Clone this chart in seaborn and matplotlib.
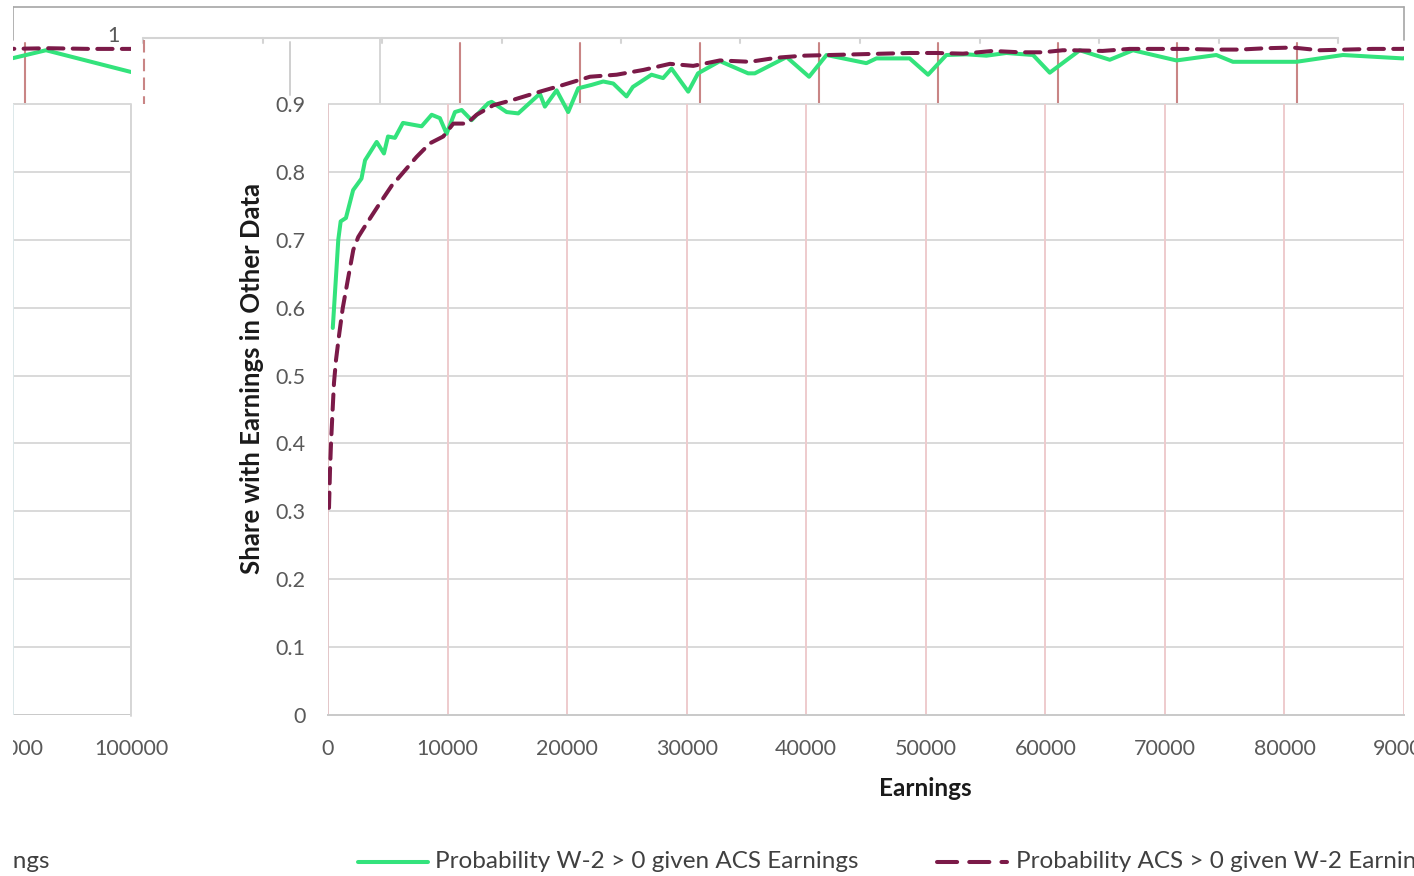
import matplotlib
matplotlib.use("Agg")
import matplotlib.pyplot as plt
from matplotlib.lines import Line2D
from matplotlib.patches import Rectangle
import pandas as pd
import seaborn as sns

# Share of people with earnings in one source who also show earnings in the other
earn_w2 = [400, 670, 860, 1060, 1500, 2100, 2800, 3100, 4070, 4680, 5020, 5600, 6270,
           7830, 8670, 9360, 9920, 10620, 11180, 12010, 13400, 13690, 14940, 15910,
           17720, 18140, 19120, 20090, 20930, 22050, 23020, 23860, 24970, 25500,
           27060, 28030, 28730, 30130, 30950, 32780, 35140, 35700, 38360, 40240,
           41700, 45030, 45870, 48650, 50190, 51720, 53400, 55070, 56740, 58970,
           60370, 62880, 65390, 67330, 70970, 74300, 75690, 81000, 84890, 89900,
           92800, 100000]
share_w2 = [0.570, 0.646, 0.700, 0.727, 0.732, 0.773, 0.790, 0.817, 0.844, 0.827, 0.852,
            0.850, 0.872, 0.867, 0.884, 0.879, 0.856, 0.888, 0.891, 0.876, 0.901, 0.903,
            0.888, 0.886, 0.915, 0.896, 0.920, 0.888, 0.923, 0.928, 0.933, 0.930, 0.911,
            0.925, 0.943, 0.938, 0.952, 0.918, 0.945, 0.963, 0.945, 0.945, 0.969, 0.940,
            0.972, 0.960, 0.967, 0.967, 0.943, 0.972, 0.973, 0.971, 0.975, 0.972, 0.946,
            0.979, 0.965, 0.979, 0.964, 0.972, 0.962, 0.962, 0.972, 0.967, 0.979, 0.947]

earn_acs = [84, 167, 251, 360, 500, 670, 945, 1230, 1700, 2115, 2530, 3240, 4350, 5460,
            5850, 7410, 8530, 9640, 10480, 11600, 12430, 13820, 15490, 17720, 19680,
            21910, 24140, 26370, 28600, 30550, 32780, 35300, 37520, 39750, 41980, 44200,
            46430, 48660, 50890, 53120, 55620, 57850, 59800, 61450, 62280, 64790, 67050,
            69560, 71790, 73990, 76240, 78470, 80700, 82930, 85160, 87390, 89620, 93000,
            96500, 100000]
share_acs = [0.305, 0.360, 0.400, 0.440, 0.489, 0.523, 0.562, 0.599, 0.645, 0.685, 0.704,
             0.724, 0.754, 0.783, 0.790, 0.822, 0.842, 0.852, 0.871, 0.871, 0.884, 0.898,
             0.906, 0.918, 0.928, 0.940, 0.943, 0.950, 0.959, 0.956, 0.964, 0.962, 0.968,
             0.971, 0.972, 0.973, 0.974, 0.975, 0.975, 0.974, 0.978, 0.976, 0.976, 0.979,
             0.979, 0.978, 0.981, 0.981, 0.981, 0.980, 0.980, 0.982, 0.983, 0.979, 0.980,
             0.981, 0.981, 0.982, 0.981, 0.981]

label_w2 = "Probability W-2 > 0 given ACS Earnings"
label_acs = "Probability ACS > 0 given W-2 Earnings"
x_ticks = [0, 10000, 20000, 30000, 40000, 50000, 60000, 70000, 80000, 90000, 100000]
y_ticks = [0, 0.1, 0.2, 0.3, 0.4, 0.5, 0.6, 0.7, 0.8, 0.9]
y_tick_labels = ["0", "0.1", "0.2", "0.3", "0.4", "0.5", "0.6", "0.7", "0.8", "0.9"]

GREEN = "#33e37c"
MAROON = "#7b1a48"
TICK_GREY = "#595959"
GRID = "#d9d9d9"
VGRID = "#eecbcd"

sns.set_theme(style="white")
plt.rcParams["font.family"] = ["Lato", "DejaVu Sans"]

W, H = 1414, 876
fig = plt.figure(figsize=(W / 100, H / 100), dpi=100)
fig.patch.set_facecolor("white")


def fx(px):
    return px / W


def fy(py):
    return 1 - py / H


def fig_line(xs, ys, **kw):
    fig.add_artist(Line2D([fx(x) for x in xs], [fy(y) for y in ys],
                          transform=fig.transFigure, **kw))


df_w2 = pd.DataFrame({"earnings": earn_w2, "share": share_w2})
df_acs = pd.DataFrame({"earnings": earn_acs, "share": share_acs})

DASH = (3.8, 2.3)
LW = 2.9
TICK_SIZE = 15.5
LEG_SIZE = 17.5


def draw_series(ax):
    sns.lineplot(data=df_w2, x="earnings", y="share", ax=ax, color=GREEN,
                 linewidth=LW, zorder=3)
    sns.lineplot(data=df_acs, x="earnings", y="share", ax=ax, color=MAROON,
                 linewidth=LW, zorder=4)
    ax.lines[-1].set_dashes(DASH)
    ax.lines[-1].set_dash_capstyle("round")
    ax.lines[-2].set_solid_joinstyle("round")


bottom_px, top_px = 715, 36
ax_h = (bottom_px - top_px) / H
ax_b = fy(bottom_px)
main_w_px = 1404 - 328

# main panel, 0 to 90000 visible
ax = fig.add_axes([fx(328), ax_b, fx(main_w_px), ax_h])
ax.set_facecolor("none")
ax.set_xlim(0, 90000)
ax.set_ylim(0, 1)
ax.hlines(y_ticks[1:], 0, 90000, color=GRID, linewidth=1.4, zorder=1)
ax.vlines(x_ticks[1:10], 0, 0.9, color=VGRID, linewidth=1.4, zorder=1)
ax.vlines([0], 0, 0.9, color="#e3c6c8", linewidth=1.4, zorder=1)
draw_series(ax)
for side in ["top", "right", "left"]:
    ax.spines[side].set_visible(False)
ax.spines["bottom"].set_color("#c9c9c9")
ax.spines["bottom"].set_linewidth(1.4)
ax.set_xticks(x_ticks[:10])
ax.set_xticklabels([str(t) for t in x_ticks[:10]])
ax.set_yticks(y_ticks)
ax.set_yticklabels(y_tick_labels)
ax.tick_params(axis="x", length=0, pad=17, labelsize=TICK_SIZE, labelcolor=TICK_GREY)
ax.tick_params(axis="y", length=0, pad=16, labelsize=TICK_SIZE, labelcolor=TICK_GREY)
ax.set_xlabel("Earnings", fontsize=17.5, fontweight="bold", color="#1a1a1a")
ax.xaxis.set_label_coords((925 - 328) / main_w_px, -(800 - 715) / (bottom_px - top_px))
ax.xaxis.label.set_va("bottom")
ax.set_ylabel("Share with Earnings in Other Data", fontsize=18.5, fontweight="bold",
              color="#1a1a1a")
ax.yaxis.set_label_coords((264 - 328) / main_w_px, 0.5 + (715 - 378 - 339.5) / 679)

# right end of the same chart, 90000 to 100000
axl = fig.add_axes([fx(0), ax_b, fx(131), ax_h])
axl.set_facecolor("none")
x_left0 = 90000 - 13 * (10000 / 119.0)
axl.set_xlim(x_left0, 100000)
axl.set_ylim(0, 1)
axl.hlines(y_ticks[1:], 90000, 100000, color=GRID, linewidth=1.4, zorder=1)
axl.hlines([0], 90000, 100000, color="#c9c9c9", linewidth=1.4, zorder=1)
axl.vlines([90000], 0, 0.9, color="#dde8ea", linewidth=1.4, zorder=1)
axl.vlines([100000], 0, 0.9, color="#d6d6d6", linewidth=1.4, zorder=1)
draw_series(axl)
for side in axl.spines:
    axl.spines[side].set_visible(False)
axl.set_xticks([90000, 100000])
axl.set_xticklabels(["90000", "100000"])
axl.set_yticks([])
axl.tick_params(axis="x", length=0, pad=17, labelsize=TICK_SIZE, labelcolor=TICK_GREY)
axl.set_xlabel("")
axl.set_ylabel("")

# outer chart border and the band above 0.9
fig_line([13, 1404], [7, 7], color="#a6a6a6", linewidth=1.2, zorder=0)
fig_line([13, 13], [7, 40], color="#a6a6a6", linewidth=1.2, zorder=0)
fig_line([1404, 1404], [7, 40], color="#a6a6a6", linewidth=1.2, zorder=0)
fig_line([143, 1338], [38, 38], color="#d4d4d4", linewidth=1.5, zorder=0)
for k in range(11):
    xk = 143 + 119.5 * k
    fig_line([xk, xk], [38, 43], color="#d4d4d4", linewidth=1.5, zorder=0)
for xk in [25, 460, 580, 700, 819, 938, 1058, 1177, 1297]:
    fig_line([xk, xk], [43, 104], color="#c98585", linewidth=1.5, zorder=0)
fig_line([144, 144], [40, 104], color="#c98585", linewidth=1.5, zorder=0,
         linestyle=(0, (6, 3)))
fig_line([290, 290], [42, 95], color="#cfcfcf", linewidth=1.4, zorder=0)
fig_line([380, 380], [38, 104], color="#d6d6d6", linewidth=1.4, zorder=0)
fig_line([131, 131], [104, 716], color="#d6d6d6", linewidth=1.4, zorder=0)
fig.text(fx(113), fy(36), "1", ha="center", va="center", fontsize=TICK_SIZE,
         color=TICK_GREY)

# legend row
LEG_Y = 862
fig_line([358, 428], [LEG_Y, LEG_Y], color=GREEN, linewidth=LW)
fig.text(fx(435), fy(LEG_Y), label_w2, ha="left", va="center", fontsize=LEG_SIZE,
         color="#404040")
fig_line([937, 1007], [LEG_Y, LEG_Y], color=MAROON, linewidth=LW,
         dashes=(5.0, 3.0), dash_capstyle="round")
fig.text(fx(1016), fy(LEG_Y), label_acs, ha="left", va="center", fontsize=LEG_SIZE,
         color="#404040")
fig.text(fx(50), fy(LEG_Y), label_acs, ha="right", va="center", fontsize=LEG_SIZE,
         color="#404040")

# blank margin on the far left of the chart frame
fig.add_artist(Rectangle((0, 0), fx(12.5), 1, transform=fig.transFigure,
                         facecolor="white", edgecolor="none", zorder=20))

fig.savefig("out.png", dpi=100)
